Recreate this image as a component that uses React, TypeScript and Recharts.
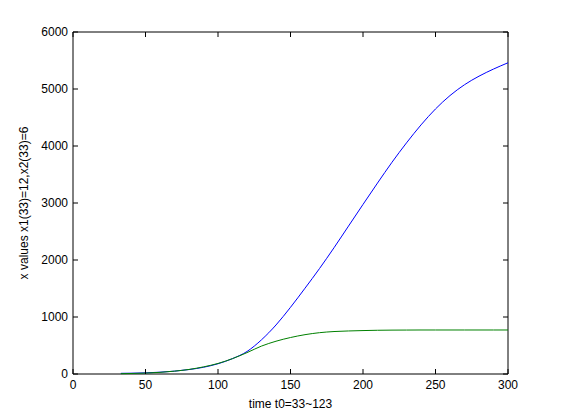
import React from "react";
import { LineChart, Line, XAxis, YAxis, ReferenceArea } from "recharts";

// time steps and the two solution curves
const time = [33, 40, 50, 60, 70, 80, 90, 100, 110, 120, 130, 140, 150, 160, 170, 180, 190, 200, 210, 220, 230, 240, 250, 260, 270, 280, 290, 300];
const x1Values = [12, 14, 20, 32, 50, 78, 118, 180, 270, 395, 600, 860, 1170, 1505, 1850, 2215, 2595, 2975, 3350, 3715, 4055, 4370, 4650, 4885, 5075, 5225, 5350, 5460];
const x2Values = [6, 9, 16, 29, 50, 80, 125, 185, 270, 375, 490, 575, 640, 690, 725, 745, 755, 762, 767, 770, 771, 772, 772, 772, 772, 772, 772, 772];

const xTicks = [0, 50, 100, 150, 200, 250, 300];
const yTicks = [0, 1000, 2000, 3000, 4000, 5000, 6000];

const data = time.map((t, i) => ({ t, x1: x1Values[i], x2: x2Values[i] }));

const W = 561;
const H = 420;
const margin = { top: 32, right: 53, left: 0, bottom: 0 };
const yAxisW = 73;
const xAxisH = 46;
const plotW = W - margin.left - margin.right - yAxisW;
const plotH = H - margin.top - margin.bottom - xAxisH;
const tickLen = 5;
const font = "'Liberation Sans', Arial, sans-serif";

const XTick = (props: any) => {
  const { x, y, payload } = props;
  const axisY = y - 6;
  return (
    <g>
      <line x1={x} y1={axisY} x2={x} y2={axisY - tickLen} stroke="#000" />
      <line x1={x} y1={axisY - plotH} x2={x} y2={axisY - plotH + tickLen} stroke="#000" />
      <text x={x} y={y} dy="0.71em" textAnchor="middle" fontSize={12} fontFamily={font} fill="#000">
        {payload.value}
      </text>
    </g>
  );
};

const YTick = (props: any) => {
  const { x, y, payload } = props;
  const axisX = x + 5;
  return (
    <g>
      <line x1={axisX} y1={y} x2={axisX + tickLen} y2={y} stroke="#000" />
      <line x1={axisX + plotW} y1={y} x2={axisX + plotW - tickLen} y2={y} stroke="#000" />
      <text x={x} y={y} dy="0.355em" textAnchor="end" fontSize={12} fontFamily={font} fill="#000">
        {payload.value}
      </text>
    </g>
  );
};

export default function App() {
  return (
    <div style={{ position: "absolute", left: 0, top: 0, width: W, height: H, background: "#fff" }}>
      <LineChart width={W} height={H} data={data} margin={margin}>
        <XAxis
          dataKey="t"
          type="number"
          domain={[0, 300]}
          ticks={xTicks}
          height={xAxisH}
          axisLine={false}
          tickLine={false}
          tickSize={0}
          tickMargin={6}
          tick={<XTick />}
          interval={0}
          label={{ value: "time t0=33~123", position: "insideBottom", offset: 12, fontSize: 12, fontFamily: font, fill: "#000" }}
        />
        <YAxis
          type="number"
          domain={[0, 6000]}
          ticks={yTicks}
          width={yAxisW}
          axisLine={false}
          tickLine={false}
          tickSize={0}
          tickMargin={5}
          tick={<YTick />}
          interval={0}
          label={{
            value: "x values x1(33)=12,x2(33)=6",
            angle: -90,
            position: "insideLeft",
            offset: 24,
            fontSize: 12,
            fontFamily: font,
            fill: "#000",
            style: { textAnchor: "middle" },
          }}
        />
        <ReferenceArea x1={0} x2={300} y1={0} y2={6000} stroke="#000" strokeOpacity={1} fill="none" />
        <Line dataKey="x1" type="monotone" stroke="#0000ff" strokeWidth={1} dot={false} isAnimationActive={false} />
        <Line dataKey="x2" type="monotone" stroke="#008000" strokeWidth={1} dot={false} isAnimationActive={false} />
      </LineChart>
    </div>
  );
}
